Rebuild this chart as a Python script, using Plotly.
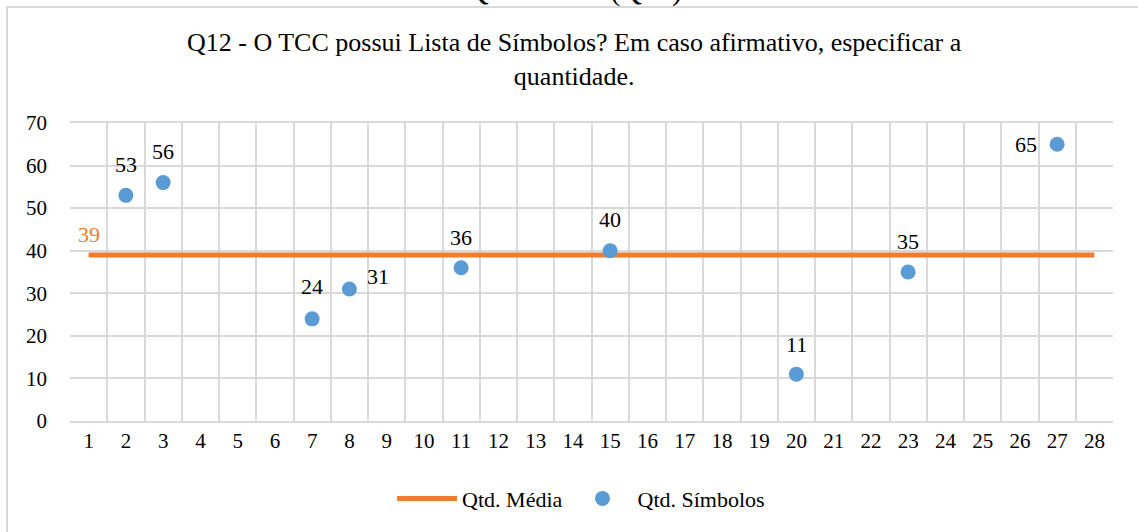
import plotly.graph_objects as go

# categorias do eixo x (numero do TCC)
categorias = [str(i) for i in range(1, 29)]

# Qtd. Simbolos
tcc_simbolos = ['2', '3', '7', '8', '11', '15', '20', '23', '27']
qtd_simbolos = [53, 56, 24, 31, 36, 40, 11, 35, 65]
# deslocamento dos rotulos (px) em relacao ao ponto
desloc_x = [0, 0, 0, 29, 0, 0, 0, 0, -31]
desloc_y = [31, 31, 32, 13, 30, 31, 30, 31, 0]

# Qtd. Media
media = 39
qtd_media = [media] * len(categorias)

fonte = 'Times New Roman'
laranja = '#ED7D31'
azul = '#5B9BD5'
grade = '#D9D9D9'

trace_media = go.Scatter(
    x=categorias, y=qtd_media, mode='lines',
    line=dict(color=laranja, width=5),
    name='Qtd. Média')

trace_simbolos = go.Scatter(
    x=tcc_simbolos, y=qtd_simbolos, mode='markers',
    marker=dict(color=azul, size=15),
    name='Qtd. Símbolos')

fig = go.Figure(data=[trace_media, trace_simbolos])

fig.update_layout(
    width=1138, height=532,
    margin=dict(l=70, r=25, t=123, b=111, autoexpand=False),
    paper_bgcolor='white', plot_bgcolor='white',
    font=dict(family=fonte, size=20, color='black'),
    showlegend=True,
    legend=dict(orientation='h', x=0.49, xanchor='center', y=-0.19, yanchor='top',
                font=dict(family=fonte, size=22), itemwidth=60),
    xaxis=dict(type='category', categoryorder='array', categoryarray=categorias,
               tickson='boundaries', showgrid=True, gridcolor=grade, gridwidth=2,
               showline=True, linecolor=grade, linewidth=2, mirror=True,
               ticks='', tickfont=dict(size=21), range=[-0.5, 27.5]),
    yaxis=dict(range=[0, 70], dtick=10, showgrid=True, gridcolor=grade, gridwidth=2,
               zeroline=False, showline=False, ticks='', tickfont=dict(size=21),
               ticklabelstandoff=22),
)

# rotulos de dados (eixo de categorias: x pela posicao da categoria)
for x, y, dx, dy in zip(tcc_simbolos, qtd_simbolos, desloc_x, desloc_y):
    fig.add_annotation(text=str(y), x=categorias.index(x), y=y, xref='x', yref='y',
                       xshift=dx, yshift=dy, showarrow=False,
                       font=dict(family=fonte, size=22, color='black'))

# rotulo da media
fig.add_annotation(
    text=str(media), x=0, y=media, xref='x', yref='y', yshift=20, showarrow=False,
    font=dict(family=fonte, size=22, color=laranja))

# titulo do grafico
fig.add_annotation(
    text='Q12 - O TCC possui Lista de Símbolos? Em caso afirmativo, especificar a<br>quantidade.',
    xref='paper', yref='paper', x=0.484, y=1.212, xanchor='center', yanchor='middle',
    showarrow=False, font=dict(family=fonte, size=26))

# titulo da secao, cortado no topo
fig.add_annotation(
    text='Questão 12 (Q12)', xref='paper', yref='paper', x=0.484, y=1.381,
    xanchor='center', yanchor='bottom', showarrow=False,
    font=dict(family=fonte, size=30))

# borda da area do grafico
fig.add_shape(type='rect', xref='paper', yref='paper',
              x0=-0.0604, x1=1.1, y0=-0.5, y1=1.389,
              line=dict(color=grade, width=2), fillcolor='rgba(0,0,0,0)', layer='below')

fig.write_html('out.html', config={'displayModeBar': False},
               post_script="document.body.style.margin='0px';")
